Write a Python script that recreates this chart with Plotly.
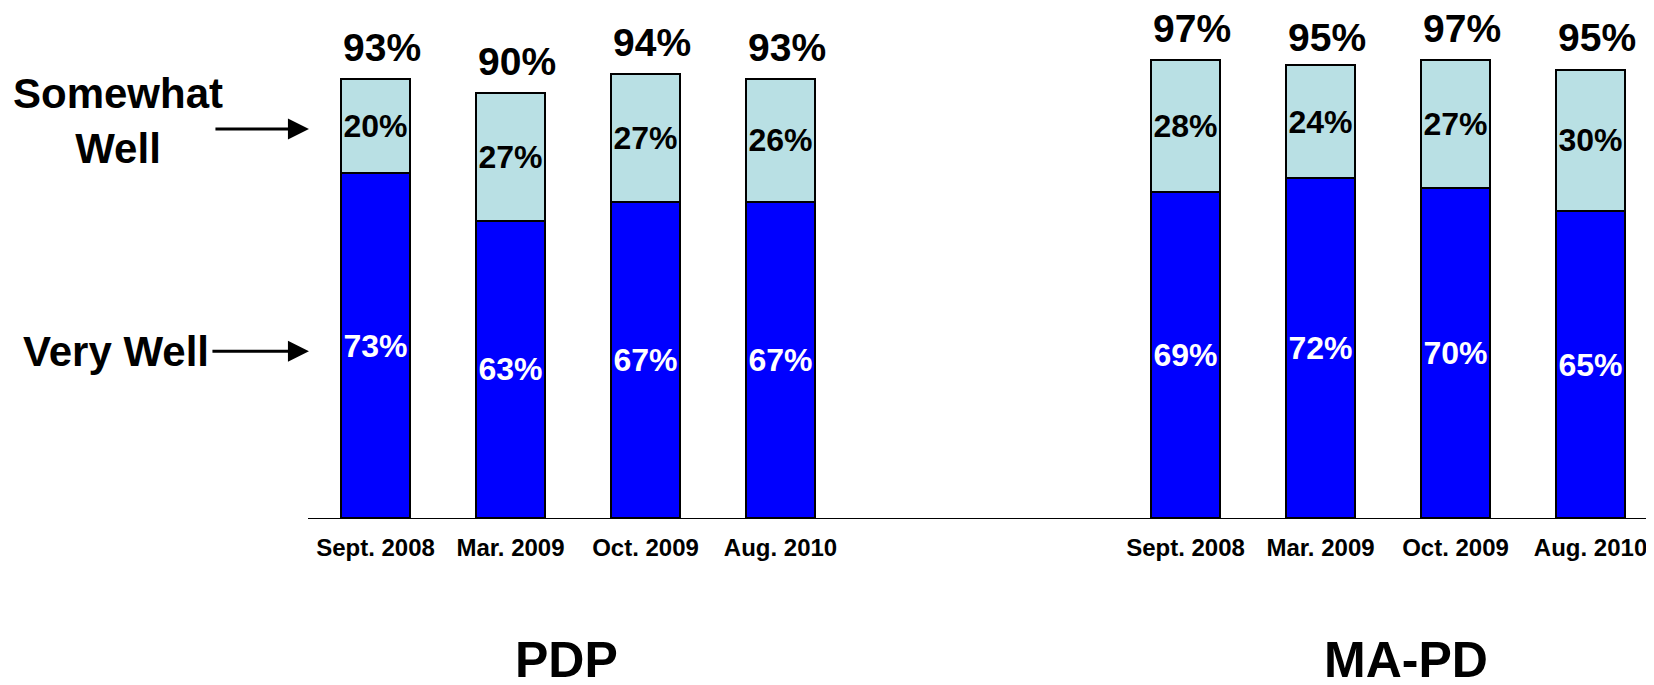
import plotly.graph_objects as go

periods = ["Sept. 2008", "Mar. 2009", "Oct. 2009", "Aug. 2010"]
groups = ["PDP", "MA-PD"]
pdp_very = [73, 63, 67, 67]
pdp_somewhat = [20, 27, 27, 26]
pdp_total = [93, 90, 94, 93]
mapd_very = [69, 72, 70, 65]
mapd_somewhat = [28, 24, 27, 30]
mapd_total = [97, 95, 97, 95]

# slot positions on a shared axis: PDP in 0-3, MA-PD in 6-9
xpos = [0, 1, 2, 3, 6, 7, 8, 9]
very = pdp_very + mapd_very
somewhat = pdp_somewhat + mapd_somewhat
total = pdp_total + mapd_total
ticktext = periods + periods

FONT = "Arial, 'Liberation Sans', sans-serif"
BLUE = "#0000FF"
LIGHT = "#B9E0E4"

fig = go.Figure()
fig.add_trace(go.Bar(
    x=xpos, y=very, name="Very Well", width=0.507,
    marker=dict(color=BLUE, line=dict(color="black", width=2)),
    text=[f"{v}%" for v in very], textposition="inside", insidetextanchor="middle",
    textangle=0, constraintext="none",
    textfont=dict(family=FONT, size=32, color="white", weight="bold"),
))
fig.add_trace(go.Bar(
    x=xpos, y=somewhat, name="Somewhat Well", width=0.507,
    marker=dict(color=LIGHT, line=dict(color="black", width=2)),
    text=[f"{v}%" for v in somewhat], textposition="inside", insidetextanchor="middle",
    textangle=0, constraintext="none",
    textfont=dict(family=FONT, size=32, color="black", weight="bold"),
))

annotations = []
for x, t in zip(xpos, total):
    annotations.append(dict(x=x, y=t, xref="x", yref="y", text=f"{t}%", showarrow=False,
                            yanchor="middle", yshift=32, xshift=6,
                            font=dict(family=FONT, size=39, color="black", weight="bold")))

# group titles
for gx, g in zip([0.1924, 0.8157], groups):
    annotations.append(dict(x=gx, y=-0.287, xref="paper", yref="paper", text=g, showarrow=False,
                            xanchor="center", yanchor="middle",
                            font=dict(family=FONT, size=50, color="black", weight="bold")))

# side labels
annotations.append(dict(x=-0.1412, y=0.803, xref="paper", yref="paper", text="Somewhat<br>Well",
                        showarrow=False, xanchor="center", yanchor="middle", align="center",
                        font=dict(family=FONT, size=42, color="black", weight="bold")))
annotations.append(dict(x=-0.143, y=0.337, xref="paper", yref="paper", text="Very Well",
                        showarrow=False, xanchor="center", yanchor="middle",
                        font=dict(family=FONT, size=42, color="black", weight="bold")))
# arrows
for ty, ax in [(0.786, -95), (0.337, -98)]:
    annotations.append(dict(x=0.0007, y=ty, xref="paper", yref="paper", text="",
                            showarrow=True, ax=ax, ay=0, axref="pixel", ayref="pixel",
                            arrowhead=2, arrowsize=1.4, arrowwidth=3, arrowcolor="black"))

# page body has an 8px default margin, so the figure is sized to fit inside the window
fig.update_layout(
    width=1646, height=677,
    margin=dict(l=300, r=0, t=15, b=167),
    barmode="stack", showlegend=False,
    plot_bgcolor="white", paper_bgcolor="white",
    annotations=annotations,
    xaxis=dict(range=[-0.5, 9.47], tickvals=xpos, ticktext=ticktext,
               showline=True, linecolor="black", linewidth=1, showgrid=False, zeroline=False,
               ticks="", ticklabelstandoff=8,
               tickfont=dict(family=FONT, size=24, color="black", weight="bold")),
    yaxis=dict(range=[0, 104.87], visible=False, showgrid=False, zeroline=False),
)

fig.write_html("out.html")
